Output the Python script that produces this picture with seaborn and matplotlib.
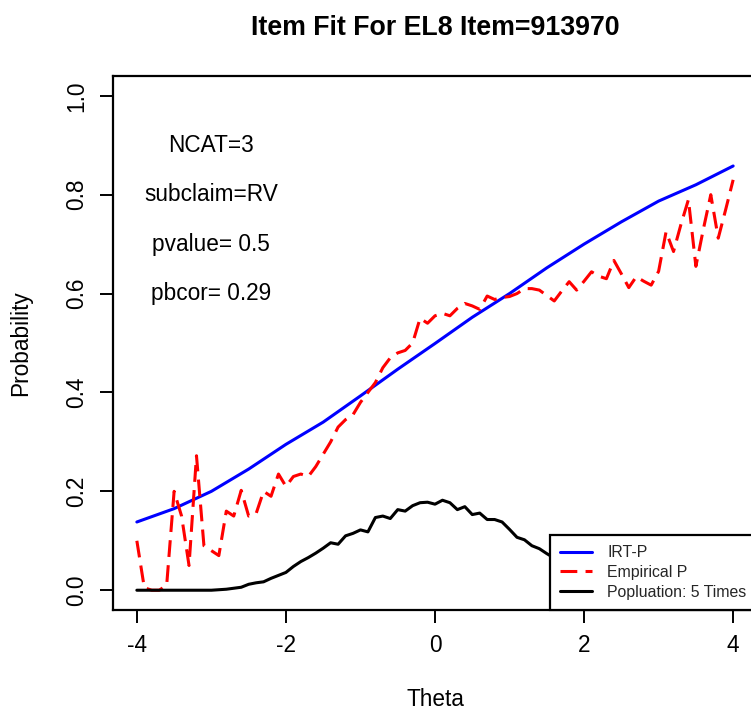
import numpy as np
import pandas as pd
import matplotlib
matplotlib.use("Agg")
import matplotlib.pyplot as plt
import seaborn as sns

# ---------------- data ----------------
theta_irt = [-4.0, -3.5, -3.0, -2.5, -2.0, -1.5, -1.0, -0.5, 0.0,
             0.5, 1.0, 1.5, 2.0, 2.5, 3.0, 3.5, 4.0]
irt_p = [0.138, 0.165, 0.200, 0.245, 0.295, 0.340, 0.393, 0.447, 0.499,
         0.552, 0.600, 0.652, 0.700, 0.745, 0.787, 0.820, 0.858]

theta_grid = [round(-4.0 + 0.1 * i, 1) for i in range(81)]

empirical_p = [0.100, 0.005, 0.000, 0.000, 0.010, 0.200, 0.150, 0.050, 0.272, 0.090,
               0.080, 0.070, 0.160, 0.150, 0.202, 0.150, 0.155, 0.200, 0.190, 0.235,
               0.210, 0.230, 0.235, 0.230, 0.250, 0.275, 0.300, 0.330, 0.345, 0.355,
               0.380, 0.400, 0.420, 0.450, 0.470, 0.480, 0.485, 0.500, 0.550, 0.540,
               0.555, 0.560, 0.555, 0.570, 0.580, 0.575, 0.568, 0.595, 0.588, 0.592,
               0.594, 0.600, 0.610, 0.610, 0.607, 0.596, 0.585, 0.605, 0.624, 0.607,
               0.625, 0.644, 0.635, 0.630, 0.667, 0.640, 0.612, 0.634, 0.625, 0.617,
               0.645, 0.725, 0.685, 0.740, 0.790, 0.655, 0.730, 0.800, 0.712, 0.770,
               0.830]

population = [0.000, 0.000, 0.000, 0.000, 0.000, 0.000, 0.000, 0.000, 0.000, 0.000,
              0.000, 0.001, 0.002, 0.004, 0.006, 0.012, 0.015, 0.017, 0.024, 0.030,
              0.036, 0.048, 0.058, 0.066, 0.075, 0.085, 0.096, 0.093, 0.110, 0.115,
              0.122, 0.118, 0.147, 0.150, 0.145, 0.163, 0.160, 0.171, 0.177, 0.178,
              0.174, 0.182, 0.177, 0.163, 0.169, 0.153, 0.156, 0.143, 0.143, 0.138,
              0.123, 0.107, 0.102, 0.090, 0.084, 0.074, 0.065, 0.058, 0.050, 0.042,
              0.035, 0.030, 0.025, 0.020, 0.015, 0.012, 0.010, 0.007, 0.005, 0.003,
              0.002, 0.001, 0.001, 0.000, 0.000, 0.000, 0.000, 0.000, 0.000, 0.000,
              0.000]

annot_texts = ["NCAT=3", "subclaim=RV", "pvalue= 0.5", "pbcor= 0.29"]
annot_y = [0.9, 0.8, 0.7, 0.6]
annot_x = -3.0

x_ticks = [-4, -2, 0, 2, 4]
y_ticks = [0.0, 0.2, 0.4, 0.6, 0.8, 1.0]

title = "Item Fit For EL8 Item=913970"
legend_labels = ["IRT-P", "Empirical P", "Popluation: 5 Times"]

# ---------------- style ----------------
sns.set_theme(style="white")
plt.rcParams["font.family"] = ["Liberation Sans", "DejaVu Sans"]
plt.rcParams["axes.unicode_minus"] = False

fig = plt.figure(figsize=(7.51, 7.10), dpi=100)
W, H = 751, 710
ax = fig.add_axes([113 / W, 1 - 610 / H, (757 - 113) / W, (610 - 76) / H])

df_irt = pd.DataFrame({"theta": theta_irt, "p": irt_p})
df_emp = pd.DataFrame({"theta": theta_grid, "p": empirical_p})
df_pop = pd.DataFrame({"theta": theta_grid, "p": population})

lw = 2.2
sns.lineplot(data=df_irt, x="theta", y="p", ax=ax, color="#0000FF", linewidth=lw,
             label=legend_labels[0], errorbar=None)
sns.lineplot(data=df_emp, x="theta", y="p", ax=ax, color="#FF0000", linewidth=lw,
             label=legend_labels[1], errorbar=None)
ax.lines[-1].set_linestyle((0, (5.5, 2.7)))
sns.lineplot(data=df_pop, x="theta", y="p", ax=ax, color="black", linewidth=lw,
             label=legend_labels[2], errorbar=None)

ax.set_xlim(-4.32, 4.32)
ax.set_ylim(-0.04, 1.04)
ax.set_xticks(x_ticks)
ax.set_xticklabels([str(t) for t in x_ticks])
ax.set_yticks(y_ticks)
ax.set_yticklabels([f"{t:.1f}" for t in y_ticks])

for s in ax.spines.values():
    s.set_visible(True)
    s.set_color("black")
    s.set_linewidth(1.6)

ax.tick_params(axis="both", which="major", direction="out", length=9.5, width=1.4,
               color="black", labelsize=16.3, labelcolor="black",
               bottom=True, left=True, top=False, right=False)
ax.tick_params(axis="x", pad=8)
ax.tick_params(axis="y", pad=8.5)
for lab in ax.get_yticklabels():
    lab.set_rotation(90)
    lab.set_va("center")
    lab.set_ha("right")

ax.set_xlabel("Theta", fontsize=16.3, color="black", labelpad=22)
ax.set_ylabel("Probability", fontsize=16.3, color="black", labelpad=24)

for t, y in zip(annot_texts, annot_y):
    ax.text(annot_x, y, t, fontsize=16.3, ha="center", va="center", color="black")

fig.text(435 / W, 1 - 28 / H, title, fontsize=19.3, fontweight="bold",
         ha="center", va="center", color="black")

leg = ax.legend(loc="lower right", bbox_to_anchor=(1.0, 0.0), borderaxespad=0,
                fontsize=11.4, frameon=True, fancybox=False, framealpha=1,
                edgecolor="black", handlelength=2.0, handletextpad=1.0,
                borderpad=0.65, labelspacing=0.3)
leg.get_frame().set_linewidth(1.6)
for lh in leg.get_lines():
    lh.set_linewidth(lw)

fig.savefig("out.png", dpi=100)
